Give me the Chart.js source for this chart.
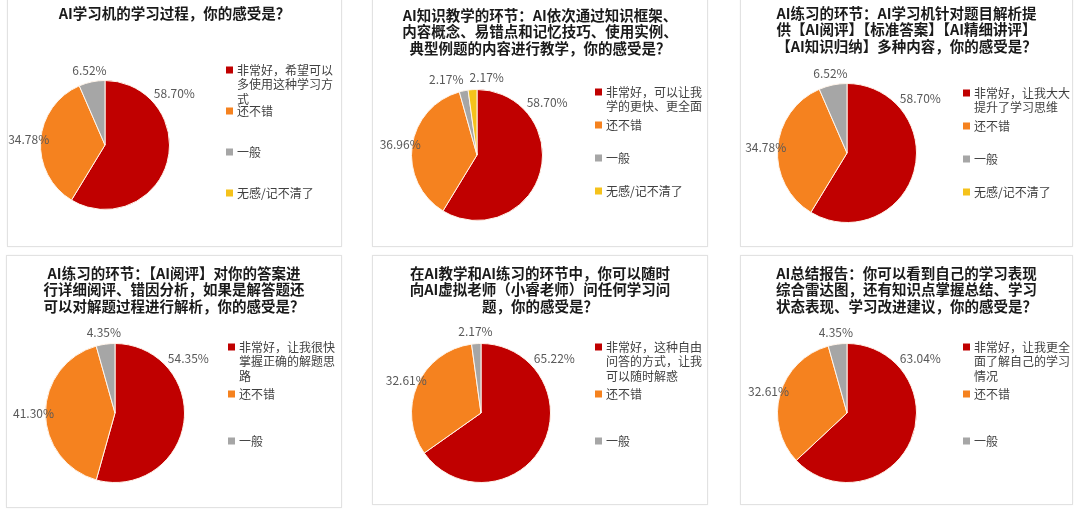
<!DOCTYPE html>
<html lang="zh-CN">
<head>
<meta charset="UTF-8">
<title>AI学习机 学习体验问卷</title>
<script src="https://cdn.jsdelivr.net/npm/chart.js"></script>
<style>
  body { margin: 0; background: #fff; width: 1080px; height: 510px; overflow: hidden; position: relative; }
  .panel { position: absolute; background: #fff; border: 1px solid #e2e2e2; box-shadow: 0 0 2px rgba(0,0,0,0.05); }
  .panel canvas { display: block; }
</style>
</head>
<body>
<script>
// ---- data ----
const titles1 = ['AI学习机的学习过程，你的感受是？'];
const labels1 = ['非常好，希望可以多使用这种学习方式', '还不错', '一般', '无感/记不清了'];
const values1 = [58.70, 34.78, 6.52, 0];

const titles2 = ['AI知识教学的环节：AI依次通过知识框架、', '内容概念、易错点和记忆技巧、使用实例、', '典型例题的内容进行教学，你的感受是？'];
const labels2 = ['非常好，可以让我学的更快、更全面', '还不错', '一般', '无感/记不清了'];
const values2 = [58.70, 36.96, 2.17, 2.17];

const titles3 = ['AI练习的环节：AI学习机针对题目解析提', '供【AI阅评】【标准答案】【AI精细讲评】', '【AI知识归纳】多种内容，你的感受是？'];
const labels3 = ['非常好，让我大大提升了学习思维', '还不错', '一般', '无感/记不清了'];
const values3 = [58.70, 34.78, 6.52, 0];

const titles4 = ['AI练习的环节：【AI阅评】对你的答案进', '行详细阅评、错因分析，如果是解答题还', '可以对解题过程进行解析，你的感受是？'];
const labels4 = ['非常好，让我很快掌握正确的解题思路', '还不错', '一般'];
const values4 = [54.35, 41.30, 4.35];

const titles5 = ['在AI教学和AI练习的环节中，你可以随时', '向AI虚拟老师（小睿老师）问任何学习问', '题，你的感受是？'];
const labels5 = ['非常好，这种自由问答的方式，让我可以随时解惑', '还不错', '一般'];
const values5 = [65.22, 32.61, 2.17];

const titles6 = ['AI总结报告：你可以看到自己的学习表现', '综合雷达图，还有知识点掌握总结、学习', '状态表现、学习改进建议，你的感受是？'];
const labels6 = ['非常好，让我更全面了解自己的学习情况', '还不错', '一般'];
const values6 = [63.04, 32.61, 4.35];

// ---- styles / layout ----
const sliceColors = ['#C00000', '#F5821F', '#A6A6A6', '#F5C21B'];
const FONT = '"Noto Sans CJK SC", "Noto Sans", sans-serif';

// page coordinates of panels, pies, titles and legends
const panels = [
  { x: 7,   y: -4,  w: 335, h: 251, cx: 105, cy: 145, r: 65, ty: 13,  lx: 226, ly: 70,  step: 41 },
  { x: 372, y: -4,  w: 336, h: 251, cx: 477, cy: 155, r: 66, ty: 15,  lx: 595, ly: 92,  step: 33 },
  { x: 740, y: -4,  w: 333, h: 251, cx: 847, cy: 153, r: 70, ty: 13,  lx: 963, ly: 93,  step: 33 },
  { x: 6,   y: 255, w: 336, h: 253, cx: 115, cy: 413, r: 70, ty: 273, lx: 228, ly: 347, step: 47 },
  { x: 372, y: 255, w: 336, h: 250, cx: 481, cy: 413, r: 70, ty: 273, lx: 595, ly: 347, step: 47 },
  { x: 740, y: 255, w: 333, h: 250, cx: 847, cy: 413, r: 70, ty: 273, lx: 963, ly: 347, step: 47 }
];

const charts = [
  [titles1, labels1, values1],
  [titles2, labels2, values2],
  [titles3, labels3, values3],
  [titles4, labels4, values4],
  [titles5, labels5, values5],
  [titles6, labels6, values6]
];

function wrapText(ctx, text, maxW) {
  const lines = [];
  let cur = '';
  for (const ch of text) {
    if (cur && ctx.measureText(cur + ch).width > maxW) {
      lines.push(cur);
      cur = ch;
    } else {
      cur += ch;
    }
  }
  if (cur) lines.push(cur);
  return lines;
}

// title, legend and percent labels
const panelText = {
  id: 'panelText',
  afterDatasetsDraw(chart, args, o) {
    const ctx = chart.ctx;
    const meta = chart.getDatasetMeta(0);
    const vals = chart.data.datasets[0].data;
    ctx.save();
    ctx.font = '12px ' + FONT;
    ctx.fillStyle = '#595959';
    ctx.textAlign = 'center';
    ctx.textBaseline = 'middle';
    const marks = [];
    meta.data.forEach((arc, i) => {
      const v = vals[i];
      if (!v) return;
      const p = arc.getProps(['x', 'y', 'startAngle', 'endAngle', 'outerRadius'], true);
      const big = v > 50;
      const a = big ? p.startAngle + 0.93 : (p.startAngle + p.endAngle) / 2;
      const d = p.outerRadius + (big ? 22 : 12);
      const txt = v.toFixed(2) + '%';
      marks.push({ txt, x: p.x + d * Math.cos(a), y: p.y + d * Math.sin(a), w: ctx.measureText(txt).width });
    });
    for (let i = 1; i < marks.length; i++) {
      const m0 = marks[i - 1], m1 = marks[i];
      const dx = m1.x - m0.x;
      const need = (m0.w + m1.w) / 2 + 6 - Math.abs(dx);
      if (need > 0 && Math.abs(m1.y - m0.y) < 14) {
        const s = dx >= 0 ? 1 : -1;
        m0.x -= s * need / 2;
        m1.x += s * need / 2;
      }
    }
    marks.forEach(m => ctx.fillText(m.txt, m.x, m.y));
    ctx.restore();
  },
  afterDraw(chart, args, o) {
    const ctx = chart.ctx;
    ctx.save();
    // title
    ctx.font = 'bold 14.5px ' + FONT;
    ctx.fillStyle = '#1a1a1a';
    ctx.textAlign = 'center';
    ctx.textBaseline = 'middle';
    o.title.forEach((line, i) => ctx.fillText(line, chart.width / 2, o.ty + i * 16.5));
    // legend
    ctx.font = '12px ' + FONT;
    ctx.textAlign = 'left';
    chart.data.labels.forEach((lab, i) => {
      const y = o.ly + i * o.step;
      ctx.fillStyle = sliceColors[i];
      ctx.fillRect(o.lx, y - 3.5, 7, 7);
      ctx.fillStyle = '#404040';
      wrapText(ctx, lab, 97).forEach((ln, k) => ctx.fillText(ln, o.lx + 11, y + k * 14.5));
    });
    ctx.restore();
  }
};

charts.forEach(([title, labels, values], i) => {
  const p = panels[i];
  const div = document.createElement('div');
  div.className = 'panel';
  div.style.left = p.x + 'px';
  div.style.top = p.y + 'px';
  const cw = p.w - 2, ch = p.h - 2;
  const canvas = document.createElement('canvas');
  canvas.width = cw;
  canvas.height = ch;
  canvas.style.width = cw + 'px';
  canvas.style.height = ch + 'px';
  div.appendChild(canvas);
  document.body.appendChild(div);

  const ox = p.x + 1, oy = p.y + 1;
  const cx = p.cx - ox, cy = p.cy - oy;
  new Chart(canvas, {
    type: 'pie',
    data: {
      labels: labels,
      datasets: [{
        data: values,
        backgroundColor: sliceColors.slice(0, values.length),
        borderColor: '#fff4ea',
        borderWidth: c => (c.raw ? 1 : 0)
      }]
    },
    options: {
      responsive: false,
      animation: false,
      layout: {
        padding: { left: cx - p.r, top: cy - p.r, right: cw - (cx + p.r), bottom: ch - (cy + p.r) }
      },
      plugins: {
        legend: { display: false },
        tooltip: { enabled: false },
        panelText: { title: title, ty: p.ty - oy, lx: p.lx - ox, ly: p.ly - oy, step: p.step }
      }
    },
    plugins: [panelText]
  });
});
</script>
</body>
</html>
